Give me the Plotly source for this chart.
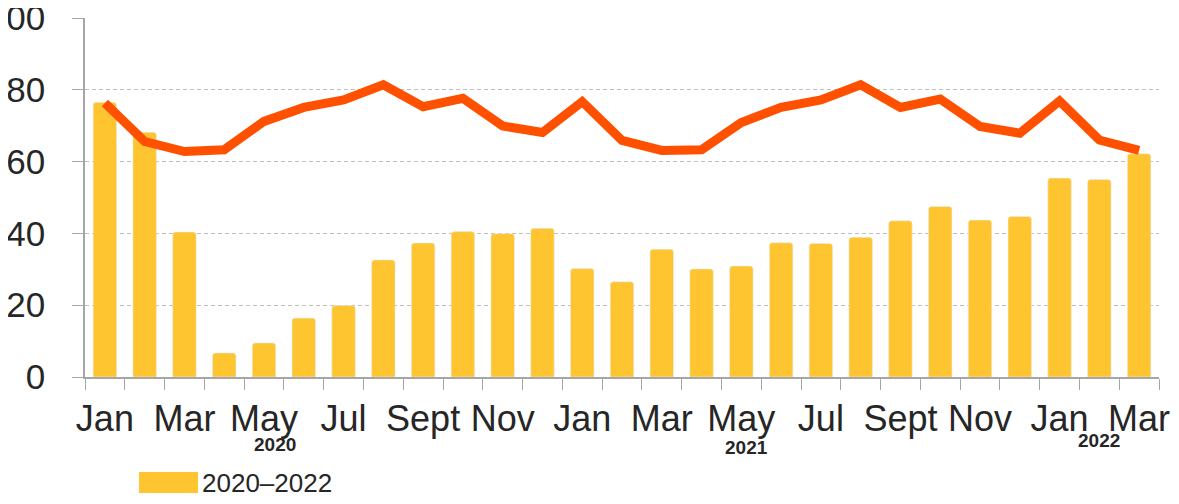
import plotly.graph_objects as go

# monthly labels Jan 2020 .. Mar 2022
months = ["Jan", "Feb", "Mar", "Apr", "May", "Jun", "Jul", "Aug", "Sept", "Oct", "Nov", "Dec"] * 2 + ["Jan", "Feb", "Mar"]
bar_values = [76.5, 68.2, 40.4, 6.7, 9.5, 16.4, 19.9, 32.6, 37.3, 40.5, 39.9, 41.4,
              30.2, 26.5, 35.6, 30.1, 30.9, 37.4, 37.2, 38.9, 43.5, 47.5, 43.7, 44.7,
              55.4, 55.0, 62.2]
line_values = [76.3, 65.6, 62.8, 63.3, 71.2, 75.1, 77.2, 81.4, 75.3, 77.6, 69.9, 68.1,
               76.7, 65.9, 63.1, 63.3, 70.9, 75.1, 77.2, 81.4, 75.1, 77.4, 69.8, 67.9,
               76.9, 66.0, 63.1]
years = ["2020", "2021", "2022"]
year_pos = [4.27, 16.13, 25.0]
legend_label = "2020–2022"

x = list(range(len(months)))
tickvals = x[::2]
ticktext = months[::2]

BAR = "#FFC530"
LINE = "#FF5000"
TXT = "#262626"
AXIS = "#A6A6A6"

fig = go.Figure()
fig.add_trace(go.Bar(x=x, y=bar_values, name=legend_label, marker=dict(color=BAR, cornerradius=3),
                     showlegend=False))
fig.add_trace(go.Scatter(x=x, y=line_values, mode="lines", line=dict(color=LINE, width=9),
                         showlegend=False))

for yr, xp, yp in zip(years, year_pos, [-0.187, -0.195, -0.177]):
    fig.add_annotation(x=xp, xref="x", y=yp, yref="paper", text=f"<b>{yr}</b>", showarrow=False,
                       font=dict(size=19, color=TXT), xanchor="center", yanchor="middle")

# legend drawn by hand so the swatch matches the wide block
fig.add_shape(type="rect", xref="paper", yref="paper", x0=0.0503, x1=0.1052, y0=-0.3231, y1=-0.2646,
              fillcolor=BAR, line_width=0)
fig.add_annotation(x=0.1071, xref="paper", y=-0.2939, yref="paper", text=legend_label, showarrow=False,
                   font=dict(size=26, color=TXT), xanchor="left", yanchor="middle")

# page body has an 8px margin, so the figure is 8px smaller and shifted
fig.update_layout(
    width=1171, height=496,
    margin=dict(l=77, r=20, t=10, b=127),
    plot_bgcolor="white", paper_bgcolor="white",
    font=dict(family="Liberation Sans, Arial, sans-serif", color=TXT),
    bargap=0.41,
    xaxis=dict(
        range=[-0.5, 26.5], tickmode="array", tickvals=tickvals, ticktext=ticktext,
        ticks="outside", ticklen=11, tickcolor="rgba(0,0,0,0)",
        minor=dict(ticks="outside", ticklen=11, tickcolor=AXIS, tick0=-0.5, dtick=1, showgrid=False),
        showline=True, linecolor=AXIS, linewidth=1.5, showgrid=False, zeroline=False,
        tickfont=dict(size=36, color=TXT), automargin=False, ticklabeloverflow="allow",
        ticklabelstandoff=-2,
    ),
    yaxis=dict(
        range=[0, 100], tickvals=[0, 20, 40, 60, 80, 100],
        ticks="outside", ticklen=11, tickcolor=AXIS,
        showline=True, linecolor=AXIS, linewidth=1.5,
        showgrid=True, gridcolor="#BFBFBF", griddash="4px,3px", gridwidth=1.2, zeroline=False,
        tickfont=dict(size=35, color=TXT), ticklabelstandoff=20, automargin=False,
        ticklabeloverflow="allow",
    ),
)

fig.write_html("out.html")
